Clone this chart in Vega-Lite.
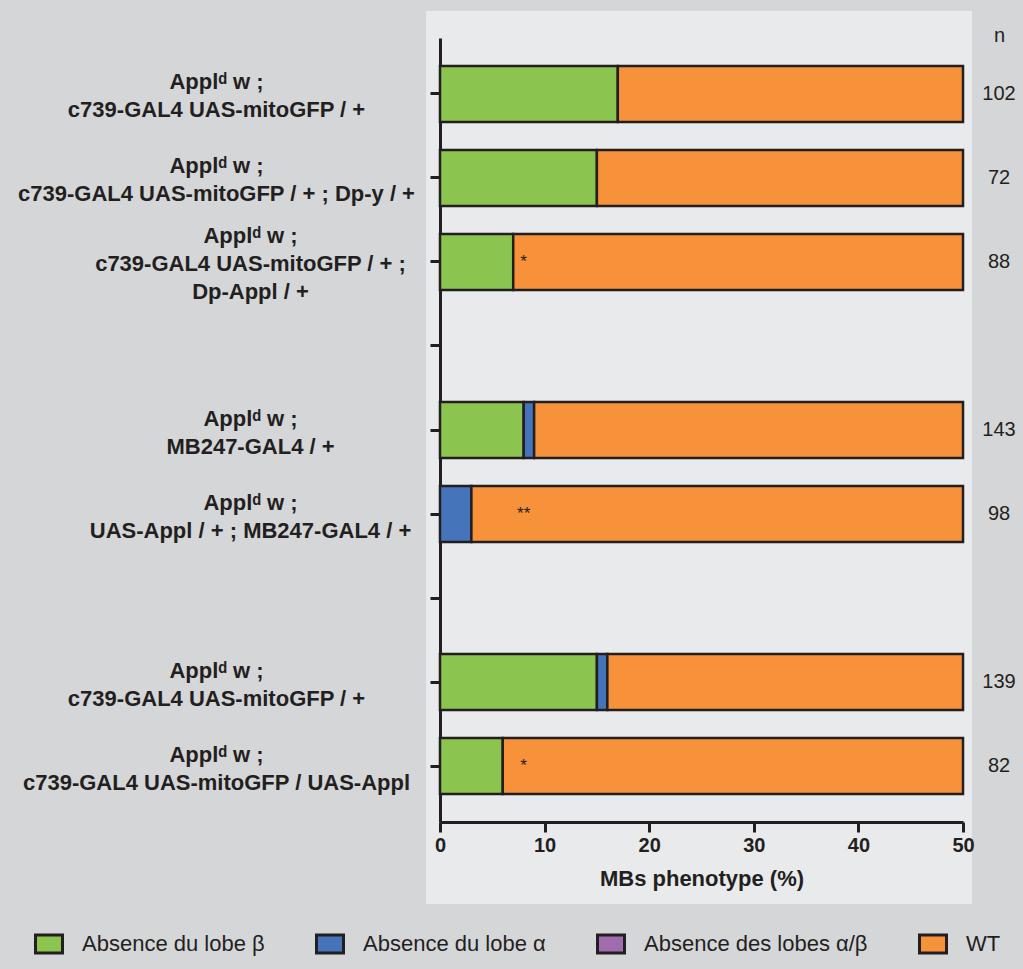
{
  "$schema": "https://vega.github.io/schema/vega-lite/v6.json",
  "autosize": "none",
  "width": 546,
  "height": 893,
  "padding": {"left": 426, "top": 11, "right": 51, "bottom": 65},
  "background": "#d5d6d8",
  "view": {"fill": "#e9eaec", "stroke": null},
  "config": {"font": "Liberation Sans", "view": {"stroke": null}},
  "datasets": {
    "bars": [
      {"key": "1|Applᵈ w ;|c739-GAL4 UAS-mitoGFP / +", "phenotype": "Absence du lobe β", "rank": 1, "pct": 17},
      {"key": "1|Applᵈ w ;|c739-GAL4 UAS-mitoGFP / +", "phenotype": "WT", "rank": 4, "pct": 83},
      {"key": "2|Applᵈ w ;|c739-GAL4 UAS-mitoGFP / + ; Dp-y / +", "phenotype": "Absence du lobe β", "rank": 1, "pct": 15},
      {"key": "2|Applᵈ w ;|c739-GAL4 UAS-mitoGFP / + ; Dp-y / +", "phenotype": "WT", "rank": 4, "pct": 85},
      {"key": "3|Applᵈ w ;|c739-GAL4 UAS-mitoGFP / + ;|Dp-Appl / +", "phenotype": "Absence du lobe β", "rank": 1, "pct": 7},
      {"key": "3|Applᵈ w ;|c739-GAL4 UAS-mitoGFP / + ;|Dp-Appl / +", "phenotype": "WT", "rank": 4, "pct": 93},
      {"key": "5|Applᵈ w ;|MB247-GAL4 / +", "phenotype": "Absence du lobe β", "rank": 1, "pct": 8},
      {"key": "5|Applᵈ w ;|MB247-GAL4 / +", "phenotype": "Absence du lobe α", "rank": 2, "pct": 1},
      {"key": "5|Applᵈ w ;|MB247-GAL4 / +", "phenotype": "WT", "rank": 4, "pct": 91},
      {"key": "6|Applᵈ w ;|UAS-Appl / + ; MB247-GAL4 / +", "phenotype": "Absence du lobe α", "rank": 2, "pct": 3},
      {"key": "6|Applᵈ w ;|UAS-Appl / + ; MB247-GAL4 / +", "phenotype": "WT", "rank": 4, "pct": 97},
      {"key": "8|Applᵈ w ;|c739-GAL4 UAS-mitoGFP / +", "phenotype": "Absence du lobe β", "rank": 1, "pct": 15},
      {"key": "8|Applᵈ w ;|c739-GAL4 UAS-mitoGFP / +", "phenotype": "Absence du lobe α", "rank": 2, "pct": 1},
      {"key": "8|Applᵈ w ;|c739-GAL4 UAS-mitoGFP / +", "phenotype": "WT", "rank": 4, "pct": 84},
      {"key": "9|Applᵈ w ;|c739-GAL4 UAS-mitoGFP / UAS-Appl", "phenotype": "Absence du lobe β", "rank": 1, "pct": 6},
      {"key": "9|Applᵈ w ;|c739-GAL4 UAS-mitoGFP / UAS-Appl", "phenotype": "WT", "rank": 4, "pct": 94}
    ],
    "rows": [
      {"key": "1|Applᵈ w ;|c739-GAL4 UAS-mitoGFP / +", "n": 102, "sig": ""},
      {"key": "2|Applᵈ w ;|c739-GAL4 UAS-mitoGFP / + ; Dp-y / +", "n": 72, "sig": ""},
      {"key": "3|Applᵈ w ;|c739-GAL4 UAS-mitoGFP / + ;|Dp-Appl / +", "n": 88, "sig": "*"},
      {"key": "5|Applᵈ w ;|MB247-GAL4 / +", "n": 143, "sig": ""},
      {"key": "6|Applᵈ w ;|UAS-Appl / + ; MB247-GAL4 / +", "n": 98, "sig": "**"},
      {"key": "8|Applᵈ w ;|c739-GAL4 UAS-mitoGFP / +", "n": 139, "sig": ""},
      {"key": "9|Applᵈ w ;|c739-GAL4 UAS-mitoGFP / UAS-Appl", "n": 82, "sig": "*"}
    ]
  },
  "resolve": {"axis": {"y": "independent"}},
  "layer": [
    {
      "data": {"name": "bars"},
      "mark": {"type": "bar", "stroke": "#231f20", "strokeWidth": 2.5},
      "encoding": {
        "y": {
          "field": "key", "type": "nominal",
          "scale": {
            "domain": [
              "1|Applᵈ w ;|c739-GAL4 UAS-mitoGFP / +",
              "2|Applᵈ w ;|c739-GAL4 UAS-mitoGFP / + ; Dp-y / +",
              "3|Applᵈ w ;|c739-GAL4 UAS-mitoGFP / + ;|Dp-Appl / +",
              "4|",
              "5|Applᵈ w ;|MB247-GAL4 / +",
              "6|Applᵈ w ;|UAS-Appl / + ; MB247-GAL4 / +",
              "7|",
              "8|Applᵈ w ;|c739-GAL4 UAS-mitoGFP / +",
              "9|Applᵈ w ;|c739-GAL4 UAS-mitoGFP / UAS-Appl"
            ],
            "range": [27, 811],
            "paddingInner": 0.3333,
            "paddingOuter": 0.3333
          },
          "axis": {
            "orient": "left", "offset": -14, "title": null,
            "labelExpr": "slice(split(datum.value, '|'), 1)",
            "labelFontSize": 22, "labelFontWeight": "bold", "labelColor": "#231f20",
            "labelAlign": "center", "labelBaseline": "middle",
            "labelPadding": {"condition": {"test": "indexof(['3', '5', '6'], slice(datum.value, 0, 1)) >= 0", "value": 180}, "value": 214},
            "labelOffset": {"condition": {"test": "length(split(datum.value, '|')) > 3", "value": -26}, "value": -11.5},
            "labelLineHeight": 28, "labelLimit": 0,
            "domainColor": "#231f20", "domainWidth": 3,
            "tickColor": "#231f20", "tickWidth": 3, "tickSize": 10
          }
        },
        "x": {
          "field": "pct", "type": "quantitative", "stack": "zero",
          "scale": {"domain": [0, 50], "range": [14, 537], "clamp": true, "nice": false},
          "axis": {
            "orient": "bottom", "offset": -82, "values": [0, 10, 20, 30, 40, 50],
            "title": "MBs phenotype (%)", "titleFontSize": 22, "titleFontWeight": "bold",
            "titleColor": "#231f20", "titlePadding": 13,
            "labelFontSize": 20, "labelFontWeight": "bold", "labelColor": "#231f20",
            "labelPadding": 3, "labelFlush": false, "grid": false,
            "domainColor": "#231f20", "domainWidth": 3,
            "tickColor": "#231f20", "tickWidth": 3, "tickSize": 10
          }
        },
        "order": {"field": "rank", "type": "quantitative"},
        "color": {
          "field": "phenotype", "type": "nominal",
          "scale": {
            "domain": ["Absence du lobe β", "Absence du lobe α", "Absence des lobes α/β", "WT"],
            "range": ["#8bc54f", "#4574ba", "#a06cb0", "#f7923a"]
          },
          "legend": {
            "orient": "none", "legendX": -388, "legendY": 922,
            "direction": "horizontal", "columns": 4, "title": null, "padding": 0,
            "symbolType": "M-1.5,-1H1.5V1H-1.5Z", "symbolSize": 324,
            "symbolStrokeColor": "#231f20", "symbolStrokeWidth": 3, "symbolOpacity": 1,
            "labelFontSize": 22, "labelColor": "#231f20", "labelOffset": 22,
            "columnPadding": 45, "labelLimit": 0
          }
        }
      }
    },
    {
      "data": {"name": "rows"},
      "mark": {"type": "text", "fontSize": 20, "color": "#231f20", "align": "center", "baseline": "middle", "dx": 36},
      "encoding": {
        "y": {
          "field": "key", "type": "nominal",
          "axis": {
            "orient": "right", "labels": false, "ticks": false, "domain": false,
            "title": "n", "titleAngle": 0, "titleX": 27, "titleY": 24,
            "titleAlign": "center", "titleBaseline": "middle",
            "titleFontSize": 20, "titleFontWeight": "normal", "titleColor": "#231f20"
          }
        },
        "x": {"datum": 50, "type": "quantitative"},
        "text": {"field": "n", "type": "quantitative"}
      }
    },
    {
      "data": {"name": "rows"},
      "transform": [{"filter": "datum.sig != ''"}],
      "mark": {"type": "text", "fontSize": 17, "color": "#231f20", "align": "center", "baseline": "middle"},
      "encoding": {
        "y": {"field": "key", "type": "nominal", "axis": null},
        "x": {"datum": 8, "type": "quantitative"},
        "text": {"field": "sig", "type": "nominal"}
      }
    }
  ]
}
